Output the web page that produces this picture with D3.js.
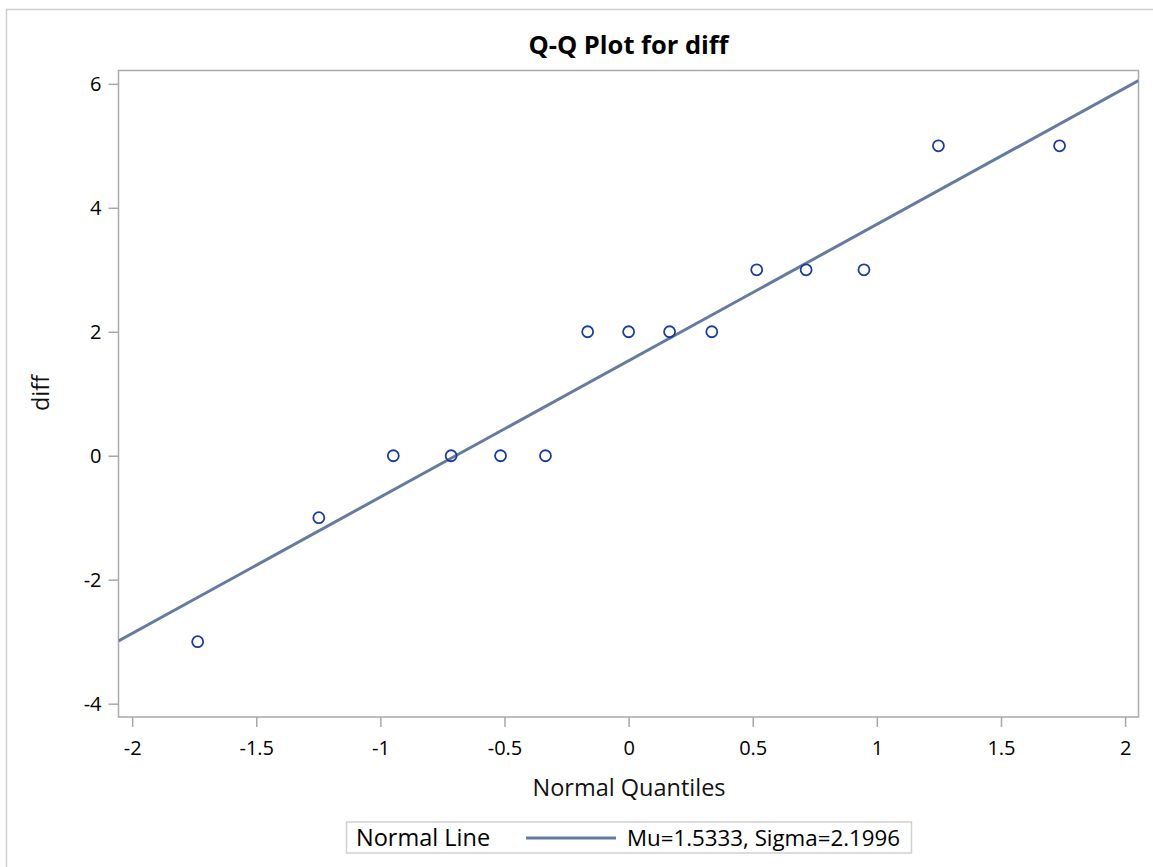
<!DOCTYPE html>
<html><head><meta charset="utf-8">
<script src="https://cdn.jsdelivr.net/npm/d3@7"></script>
<style>body{margin:0;background:#fff;} text{font-family:"Open Sans","Noto Sans",sans-serif;}</style>
</head><body>
<script>
const quantiles = [-1.736, -1.248, -0.948, -0.715, -0.516, -0.335, -0.165, 0, 0.165, 0.335, 0.516, 0.715, 0.948, 1.248, 1.736];
const diffValues = [-3, -1, 0, 0, 0, 0, 2, 2, 2, 2, 3, 3, 3, 5, 5];
const mu = 1.5333, sigma = 2.1996;
const xTicks = [-2, -1.5, -1, -0.5, 0, 0.5, 1, 1.5, 2];
const yTicks = [-4, -2, 0, 2, 4, 6];

const W = 1153, H = 867;
const svg = d3.select("body").append("svg").attr("width", W).attr("height", H);
svg.append("rect").attr("x", 6.5).attr("y", 9.5).attr("width", W).attr("height", H).attr("fill", "none").attr("stroke", "#d0d0d0").attr("stroke-width", 1.5);

const L = 118.5, R = 1138.5, T = 70.5, B = 717;
const x = d3.scaleLinear().domain([-2.055, 2.054]).range([L, R]);
const y = d3.scaleLinear().domain([-4.215, 6.215]).range([B, T]);

svg.append("clipPath").attr("id", "c").append("rect").attr("x", L).attr("y", T).attr("width", R - L).attr("height", B - T);

const fmt = d => String(d).replace("\u2212", "-");
const xa = svg.append("g").attr("transform", `translate(0,${B})`).call(d3.axisBottom(x).tickValues(xTicks).tickSize(10).tickSizeOuter(0).tickFormat(fmt));
const ya = svg.append("g").attr("transform", `translate(${L},0)`).call(d3.axisLeft(y).tickValues(yTicks).tickSize(10).tickSizeOuter(0).tickFormat(fmt));
[xa, ya].forEach(a => {
  a.attr("font-size", null).attr("font-family", null);
  a.select(".domain").remove();
  a.selectAll(".tick line").attr("stroke", "#a8a8a8").attr("stroke-width", 1.5);
  a.selectAll(".tick text").attr("fill", "#000").style("font-size", "20px");
});
xa.selectAll(".tick text").attr("y", 38).attr("dy", 0);
ya.selectAll(".tick text").attr("x", -17);

svg.append("rect").attr("x", L).attr("y", T).attr("width", R - L).attr("height", B - T).attr("fill", "none").attr("stroke", "#aaaaaa").attr("stroke-width", 1.5);

const xd = x.domain();
svg.append("line").attr("clip-path", "url(#c)")
  .attr("x1", x(xd[0])).attr("y1", y(mu + sigma * xd[0]))
  .attr("x2", x(xd[1])).attr("y2", y(mu + sigma * xd[1]))
  .attr("stroke", "#667ba0").attr("stroke-width", 3);

svg.append("g").selectAll("circle").data(quantiles).join("circle")
  .attr("cx", d => x(d)).attr("cy", (d, i) => y(diffValues[i])).attr("r", 5.5)
  .attr("fill", "none").attr("stroke", "#1a3d9c").attr("stroke-width", 1.8);

svg.append("text").attr("x", 628.5).attr("y", 54).attr("text-anchor", "middle").style("font-size", "25.5px").style("font-weight", "bold").attr("fill", "#000").text("Q-Q Plot for diff");
svg.append("text").attr("x", 629).attr("y", 796).attr("text-anchor", "middle").style("font-size", "23.5px").attr("fill", "#111").text("Normal Quantiles");
svg.append("text").attr("transform", "translate(49,393) rotate(-90)").attr("text-anchor", "middle").style("font-size", "23.5px").attr("fill", "#111").text("diff");

svg.append("rect").attr("x", 346.5).attr("y", 822).attr("width", 565).attr("height", 31).attr("fill", "#fff").attr("stroke", "#d0d0d0").attr("stroke-width", 1.5);
svg.append("text").attr("x", 356).attr("y", 846).style("font-size", "23.5px").attr("fill", "#000").text("Normal Line");
svg.append("line").attr("x1", 526).attr("x2", 616).attr("y1", 838).attr("y2", 838).attr("stroke", "#667ba0").attr("stroke-width", 3);
svg.append("text").attr("x", 627).attr("y", 846).style("font-size", "22.3px").attr("fill", "#000").text(`Mu=${mu.toFixed(4)}, Sigma=${sigma.toFixed(4)}`);
</script>
</body></html>
